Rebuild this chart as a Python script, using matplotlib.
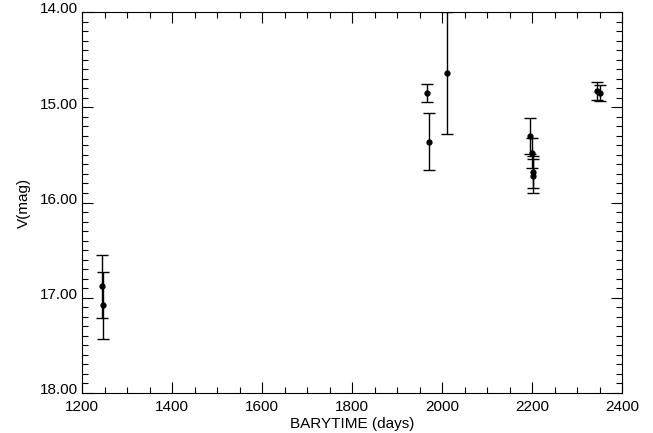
import matplotlib
matplotlib.use("Agg")
import matplotlib.pyplot as plt
import matplotlib.transforms as mtransforms
from matplotlib.ticker import MultipleLocator, FormatStrFormatter

plt.rcParams['font.family'] = ['Liberation Sans', 'DejaVu Sans']

barytime = [1244, 1246, 1967, 1970, 2010, 2196, 2199, 2203, 2202, 2345, 2350]
vmag = [16.88, 17.08, 14.85, 15.36, 14.64, 15.30, 15.48, 15.68, 15.72, 14.83, 14.85]
verr = [0.33, 0.35, 0.09, 0.30, 0.64, 0.19, 0.16, 0.17, 0.18, 0.09, 0.08]

fig = plt.figure(figsize=(6.53, 4.33), dpi=100)
ax = fig.add_axes([82/653, 40/433, 540/653, 381/433])
ax.errorbar(barytime, vmag, yerr=verr, fmt='o', color='black', ms=3.5,
            elinewidth=1.0, capsize=4, capthick=1.0, ecolor='black')
ax.set_xlim(1200, 2400)
ax.set_ylim(18, 14)
ax.xaxis.set_major_locator(MultipleLocator(200))
ax.xaxis.set_minor_locator(MultipleLocator(50))
ax.yaxis.set_major_locator(MultipleLocator(1.0))
ax.yaxis.set_minor_locator(MultipleLocator(0.1))
ax.yaxis.set_major_formatter(FormatStrFormatter('%.2f'))
ax.tick_params(which='both', direction='in', top=True, right=True, labelsize=11, width=0.8)
ax.tick_params(axis='x', pad=5)
ax.tick_params(axis='y', pad=3)
ax.tick_params(which='major', length=8)
ax.tick_params(which='minor', length=4)
for s in ax.spines.values():
    s.set_linewidth(0.8)
ax.set_xlabel('BARYTIME (days)', fontsize=11, labelpad=2)
ax.set_ylabel('V(mag)', fontsize=11, labelpad=6)

offset = mtransforms.ScaledTranslation(0, 3/72, fig.dpi_scale_trans)
for lbl in ax.get_yticklabels():
    lbl.set_transform(lbl.get_transform() + offset)

fig.savefig('out.png', dpi=100)
